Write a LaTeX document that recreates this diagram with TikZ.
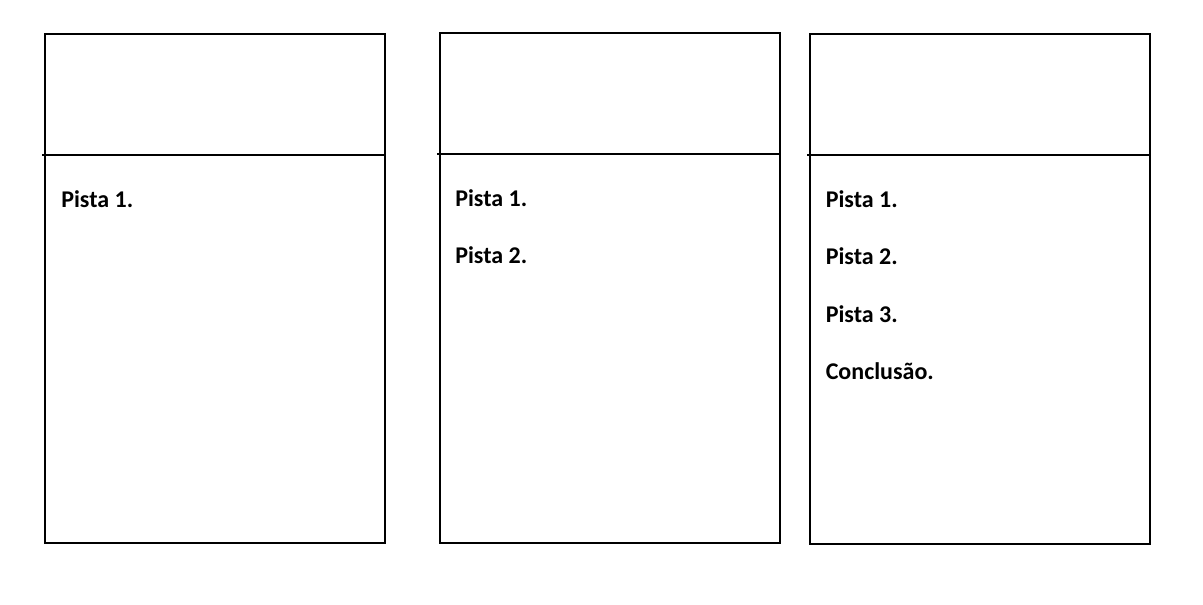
\documentclass[tikz,border=0pt]{standalone}
\usepackage{fontspec}
\setmainfont{Carlito}
\usetikzlibrary{positioning}
\tikzset{
  panel/.style={draw, line width=1.6pt, inner sep=0pt, minimum width=255pt, minimum height=382pt, anchor=north west},
  rule/.style={line width=1.6pt},
  pista/.style={anchor=base west, inner sep=0pt, font=\fontsize{18}{22}\selectfont\bfseries}
}
\begin{document}
\begin{tikzpicture}[x=0.75pt, y=-0.75pt]
  \useasboundingbox (0,0) rectangle (1203,604);
  % three panels
  \node[panel] (panel1) at ( 44.3, 32.7) {};
  \node[panel] (panel2) at (439.0, 32.3) {};
  \node[panel] (panel3) at (809.0, 33.3) {};
  % header lines
  \draw[rule] ([xshift=-1.5pt, yshift=-91.5pt]panel1.north west) -- ([yshift=-91.5pt]panel1.north east);
  \draw[rule] ([xshift=-1.5pt, yshift=-91.5pt]panel2.north west) -- ([yshift=-91.5pt]panel2.north east);
  \draw[rule] ([xshift=-1.5pt, yshift=-91.5pt]panel3.north west) -- ([yshift=-91.5pt]panel3.north east);
  % clues
  \node[pista] (a1) at ( 61.0, 207.5) {Pista 1.};
  \node[pista] (b1) at (455.0, 206.0) {Pista 1.};
  \node[pista] (b2) at (455.0, 263.7) {Pista 2.};
  \node[pista] (c1) at (825.5, 207.5) {Pista 1.};
  \node[pista] (c2) at (825.5, 264.0) {Pista 2.};
  \node[pista] (c3) at (825.5, 322.5) {Pista 3.};
  \node[pista] (c4) at (825.5, 379.3) {Conclusão.};
\end{tikzpicture}
\end{document}
